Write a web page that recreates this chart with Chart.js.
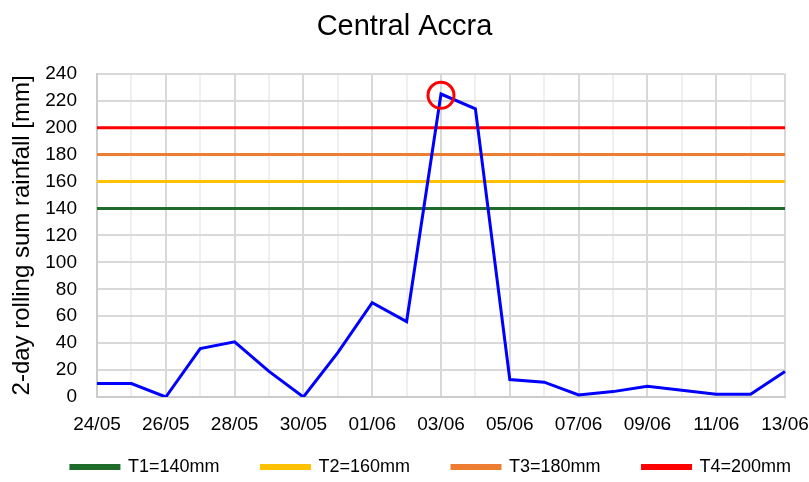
<!DOCTYPE html>
<html>
<head>
<meta charset="utf-8">
<script src="https://cdn.jsdelivr.net/npm/chart.js@4.4.0/dist/chart.umd.min.js"></script>
<style>
  html, body { margin: 0; padding: 0; background: #fff; }
  #wrap { width: 809px; height: 482px; }
</style>
</head>
<body>
<div id="wrap"><canvas id="c" width="809" height="482"></canvas></div>
<script>
const days = ['24/05','25/05','26/05','27/05','28/05','29/05','30/05','31/05',
  '01/06','02/06','03/06','04/06','05/06','06/06','07/06','08/06','09/06','10/06',
  '11/06','12/06','13/06'];
const rainfall = [10, 10, 0, 36, 41, 19, 0, 33, 70, 56, 225, 214, 13, 11, 1.5, 4, 8, 5, 2, 2, 19];
const thresholdNames = ['T1=140mm', 'T2=160mm', 'T3=180mm', 'T4=200mm'];
const thresholdValues = [140, 160, 180, 200];
const thresholdColors = ['#1e6b2a', '#ffc000', '#ed7d31', '#ff0000'];
const peakDay = '03/06';

const FONT = "'Liberation Sans', Arial, sans-serif";

const thresholdSets = thresholdValues.map((v, i) => ({
  label: thresholdNames[i],
  data: days.map(() => v),
  borderColor: thresholdColors[i],
  backgroundColor: thresholdColors[i],
  borderWidth: 3,
  pointRadius: 0,
  order: 2
}));

const peakIdx = days.indexOf(peakDay);
const marker = {
  label: 'peak',
  data: days.map((d, i) => i === peakIdx ? rainfall[i] - 1 : null),
  showLine: false,
  pointRadius: 13,
  pointBorderWidth: 3,
  pointBorderColor: '#ff0000',
  pointBackgroundColor: 'rgba(0,0,0,0)',
  order: 0
};

// legend row in the reference starts further right than chart.js centres it
const shiftLegend = {
  id: 'shiftLegend',
  afterLayout(chart) {
    chart.legend.left += 39;
    chart.legend.right += 39;
  }
};

new Chart(document.getElementById('c'), {
  type: 'line',
  data: {
    labels: days,
    datasets: [...thresholdSets, {
      label: 'rainfall',
      data: rainfall,
      borderColor: '#0000ff',
      borderWidth: 3,
      pointRadius: 0,
      tension: 0,
      order: 1
    }, marker]
  },
  plugins: [shiftLegend],
  options: {
    responsive: false,
    animation: false,
    layout: { padding: { top: 4, left: 8, right: 8, bottom: -4 } },
    plugins: {
      title: {
        display: true,
        text: 'Central Accra',
        color: '#000',
        font: { family: FONT, size: 29, weight: 'normal' },
        padding: { top: 6, bottom: 29 }
      },
      legend: {
        position: 'bottom',
        labels: {
          boxWidth: 48,
          boxHeight: 3,
          padding: 17,
          color: '#000',
          font: { family: FONT, size: 18 },
          // only the thresholds go in the legend; trailing spaces widen the gap between items
          generateLabels: chart => Chart.defaults.plugins.legend.labels.generateLabels(chart)
            .filter(item => thresholdNames.includes(item.text))
            .map(item => Object.assign(item, { text: item.text + '     ' }))
        }
      },
      tooltip: { enabled: false }
    },
    scales: {
      x: {
        offset: false,
        grid: {
          color: ctx => ctx.index % 2 === 0 ? '#d9d9d9' : '#efefef',
          lineWidth: 2,
          drawTicks: false
        },
        border: { color: '#cccccc', width: 2 },
        ticks: {
          autoSkip: false,
          maxRotation: 0,
          padding: 16,
          color: '#000',
          font: { family: FONT, size: 19 },
          callback: function (v, i) { return i % 2 === 0 ? this.getLabelForValue(v) : ''; }
        },
        afterFit: s => { s.height = 44; s.paddingRight = 24; }
      },
      y: {
        min: 0,
        max: 240,
        grid: { color: '#d9d9d9', lineWidth: 2, drawTicks: false },
        border: { color: '#cccccc', width: 2 },
        ticks: {
          stepSize: 20,
          autoSkip: false,
          padding: 20,
          color: '#000',
          font: { family: FONT, size: 19 }
        },
        title: {
          display: true,
          text: '2-day rolling sum rainfall [mm]',
          color: '#000',
          font: { family: FONT, size: 24 },
          padding: { top: 0, bottom: 4 }
        },
        afterFit: s => { s.width = 89; }
      }
    }
  }
});
</script>
</body>
</html>
